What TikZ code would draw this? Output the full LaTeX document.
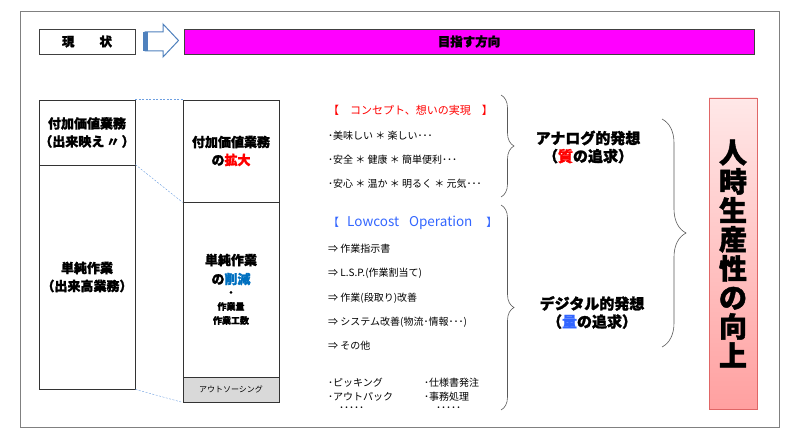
\documentclass[tikz,border=0pt]{standalone}
\usepackage{fontspec}
\setmainfont{Noto Sans CJK JP}[BoldFeatures={FakeBold=1.5}]
\usetikzlibrary{decorations.pathreplacing}
\definecolor{magbar}{RGB}{255,0,255}
\definecolor{linkblue}{RGB}{110,160,225}
\definecolor{arrowblue}{RGB}{79,129,189}
\definecolor{cutblue}{RGB}{0,112,192}
\definecolor{opblue}{RGB}{51,102,255}
\definecolor{pinkedge}{RGB}{224,102,102}
\definecolor{pinktop}{RGB}{255,232,232}
\definecolor{pinkbot}{RGB}{255,160,160}
\definecolor{outgray}{RGB}{217,217,217}
\tikzset{braceline/.style={draw=gray!70!black, line width=0.6pt, decorate, decoration={brace, amplitude=#1}}}

\begin{document}
\begin{tikzpicture}[x=1pt, y=-1pt]
        \useasboundingbox (0,0) rectangle (800,441);
        \draw [draw=gray, line width=1pt] (20,12) rectangle (779,427);

        % header row
        \begin{scope}[every node/.style={rectangle,draw=gray!50!black,thick,inner sep=0pt,font=\fontsize{12.5}{14}\selectfont\bfseries}]
            \node (now) [minimum width=96, minimum height=25] at (87,41.5) {現\hspace{2em}状};
            \node (goal) [fill=magbar, minimum width=570, minimum height=25] at (469,41.5) {目指す方向};
        \end{scope}
        \draw [draw=arrowblue, fill=white, line width=1pt] (145,32) -- (163,32) -- (163,24) -- (178.5,40.5) -- (163,57) -- (163,51) -- (145,51) -- cycle;
        \fill [arrowblue] (143,32) rectangle (148,51);

        % columns
        \begin{scope}[every node/.style={rectangle,draw=gray!40!black,thick,minimum width=96,inner sep=0pt,align=center,font=\fontsize{13}{18}\selectfont\bfseries}]
            \node (L1) [minimum height=65] at (87,132.5) {付加価値業務\\（出来映え\,〃\,）};
            \node (L2) [minimum height=224] at (87,277) {単純作業\\（出来高業務）};
            \node (M1) [minimum height=102] at (231,151) {付加価値業務\\の\textcolor{red}{拡大}};
            \node (M2) [minimum height=175] at (231,289.5) {};
            \node (M3) [minimum height=25, fill=outgray, font=\fontsize{8}{10}\selectfont] at (231,389.5) {アウトソーシング};
        \end{scope}
        \node (M2a) [align=center, font=\fontsize{13}{19}\selectfont\bfseries] at (231,269.5) {単純作業\\の\textcolor{cutblue}{削減}};
        \node (M2b) [align=center, font=\fontsize{9}{14}\selectfont\bfseries] at (231,308) {・\\作業量\\作業工数};

        \begin{scope}[every edge/.style={draw=linkblue, thin, dash pattern=on 2pt off 1.5pt}]
            \path (L1.north east) edge (M1.north west);
            \path (L2.north east) edge (M1.south west);
            \path (L2.south east) edge (M3.south west);
        \end{scope}

        % lists
        \begin{scope}[every node/.style={anchor=west,inner sep=0pt,font=\fontsize{10}{12}\selectfont}]
            \node (C0) [text=red, font=\fontsize{11}{12}\selectfont] at (328,110) {【　コンセプト、想いの実現　】};
            \node (C1) at (328,136) {･美味しい ＊ 楽しい･･･};
            \node (C2) at (328,160) {･安全 ＊ 健康 ＊ 簡単便利･･･};
            \node (C3) at (328,184) {･安心 ＊ 温か ＊ 明るく ＊ 元気･･･};
            \node (D0) [text=opblue, font=\fontsize{11}{12}\selectfont] at (328,223) {【\hspace{8pt}{\fontsize{13.5}{14}\selectfont Lowcost\hspace{10pt}Operation}\hspace{14pt}】};
            \node (D1) at (328,249) {⇒ 作業指示書};
            \node (D2) at (328,273) {⇒ L.S.P.(作業割当て)};
            \node (D3) at (328,298) {⇒ 作業(段取り)改善};
            \node (D4) at (328,322) {⇒ システム改善(物流･情報･･･)};
            \node (D5) at (328,346) {⇒ その他};
            \node (E1) at (328,383) {･ピッキング};
            \node (E2) at (328,397) {･アウトパック};
            \node (E3) at (339,409) {･････};
            \node (F1) at (424,383) {･仕様書発注};
            \node (F2) at (424,397) {･事務処理};
            \node (F3) at (436,409) {･････};
        \end{scope}

        % braces
        \coordinate (B1a) at (501,95);
        \coordinate (B1b) at (501,197);
        \coordinate (B2a) at (501,205);
        \coordinate (B2b) at (501,410);
        \coordinate (B3a) at (662,119);
        \coordinate (B3b) at (662,347);
        \draw [braceline=13] (B1a) -- (B1b);
        \draw [braceline=13] (B2a) -- (B2b);
        \draw [braceline=24] (B3a) -- (B3b);

        \begin{scope}[every node/.style={align=center,font=\fontsize{15}{18}\selectfont\bfseries}]
            \node (A) at (588,147) {アナログ的発想\\（\textcolor{red}{質}の追求）};
            \node (Dg) at (592,312.5) {デジタル的発想\\（\textcolor{opblue}{量}の追求）};
        \end{scope}

        \node (P) [draw=pinkedge, top color=pinktop, bottom color=pinkbot, minimum width=48, minimum height=311, inner sep=0pt, align=center, font=\fontsize{28}{29}\selectfont\bfseries] at (733,253.5) {人\\時\\生\\産\\性\\の\\向\\上};
    \end{tikzpicture}
\end{document}
